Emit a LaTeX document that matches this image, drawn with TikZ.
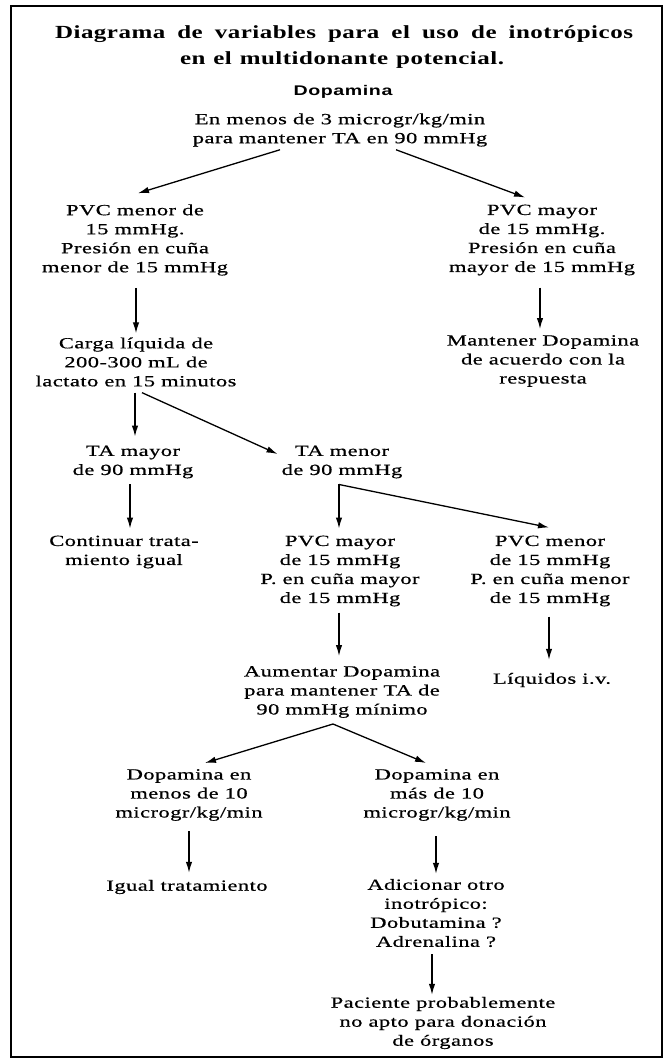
\documentclass[tikz,border=0pt]{standalone}
\usepackage{fontspec}
\usepackage{graphicx}
\usetikzlibrary{arrows.meta}
\setmainfont{Liberation Serif}[FakeStretch=1.45, LetterSpace=3, FakeBold=0.6]
\newfontfamily\titlefont{Liberation Serif}[LetterSpace=2]
\newfontfamily\dopfont{Liberation Sans}[LetterSpace=3]
\newcommand\ttlline[2]{\scalebox{1.35}[1]{\makebox[#1][s]{#2}}}
\begin{document}
\begin{tikzpicture}[x=1pt,y=-1pt,
  txt/.style={align=center, inner sep=0pt, font=\fontsize{15.5}{19}\selectfont},
  ttl/.style={inner sep=0pt, font=\titlefont\bfseries\fontsize{18.5}{20}\selectfont},
  arr/.style={-{Latex[length=11pt,width=6.5pt]}, line width=1.3pt},
  frame/.style={line width=1.8pt}]
\useasboundingbox (0,0) rectangle (664,1060);
\draw[frame] (11,6) rectangle (662,1057);

\node[ttl] (t1) at (344,34) {\ttlline{428.1pt}{Diagrama de variables para el uso de inotrópicos}};
\node[ttl] (t2) at (342,60) {\ttlline{240pt}{en el multidonante potencial.}};
\node[inner sep=0pt, font=\dopfont\bfseries\fontsize{14}{16}\selectfont] (dop) at (343,92) {\scalebox{1.4}[1]{Dopamina}};

\node[txt] (start) at (340,130) {En menos de 3 microgr/kg/min\\para mantener TA en 90 mmHg};
\node[txt] (pvcL) at (135,240) {PVC menor de\\15 mmHg.\\Presión en cuña\\menor de 15 mmHg};
\node[txt] (pvcR) at (542,240) {PVC mayor\\de 15 mmHg.\\Presión en cuña\\mayor de 15 mmHg};
\node[txt] (carga) at (136,362) {Carga líquida de\\200-300 mL de\\lactato en 15 minutos};
\node[txt] (mant) at (543,361) {Mantener Dopamina\\de acuerdo con la\\respuesta};
\node[txt] (tamay) at (133,462) {TA mayor\\de 90 mmHg};
\node[txt] (tamen) at (342,462) {TA menor\\de 90 mmHg};
\node[txt] (cont) at (124,552) {Continuar trata-\\miento igual};
\node[txt] (pvcmay) at (340,571) {PVC mayor\\de 15 mmHg\\P. en cuña mayor\\de 15 mmHg};
\node[txt] (pvcmen) at (550,571) {PVC menor\\de 15 mmHg\\P. en cuña menor\\de 15 mmHg};
\node[txt] (aum) at (342,692) {Aumentar Dopamina\\para mantener TA de\\90 mmHg mínimo};
\node[txt] (liq) at (552,680) {Líquidos i.v.};
\node[txt] (dmen) at (189,795) {Dopamina en\\menos de 10\\microgr/kg/min};
\node[txt] (dmas) at (437,795) {Dopamina en\\más de 10\\microgr/kg/min};
\node[txt] (igual) at (187,887) {Igual tratamiento};
\node[txt] (adic) at (436,913) {Adicionar otro\\inotrópico:\\Dobutamina ?\\Adrenalina ?};
\node[txt] (pac) at (443,1023) {Paciente probablemente\\no apto para donación\\de órganos};

\draw[arr] ([xshift=-60pt,yshift=-3pt]start.south) -- ([xshift=3pt,yshift=11pt]pvcL.north);
\draw[arr] ([xshift=56pt,yshift=-3pt]start.south) -- ([xshift=-17pt,yshift=7pt]pvcR.north);
\draw[arr] ([xshift=1pt,yshift=-12pt]pvcL.south) -- ([xshift=0pt,yshift=4pt]carga.north);
\draw[arr] ([xshift=-2pt,yshift=-12pt]pvcR.south) -- ([xshift=-3pt,yshift=6pt]mant.north);
\draw[arr] ([xshift=-1pt,yshift=-6pt]carga.south) -- ([xshift=2pt,yshift=9pt]tamay.north);
\draw[arr] ([xshift=6pt,yshift=-6pt]carga.south) -- ([xshift=-4pt,yshift=8pt]tamen.west);
\draw[arr] ([xshift=-3pt,yshift=-6pt]tamay.south) -- ([xshift=6pt,yshift=7pt]cont.north);
\coordinate (split1) at ([xshift=-3pt,yshift=-6pt]tamen.south);
\draw[arr] (split1) -- ([xshift=-1pt,yshift=7pt]pvcmay.north);
\draw[arr] (split1) -- ([xshift=-1pt,yshift=8pt]pvcmen.north);
\draw[arr] ([xshift=-1pt,yshift=-6pt]pvcmay.south) -- ([xshift=-3pt,yshift=10pt]aum.north);
\draw[arr] ([xshift=-1pt,yshift=-10pt]pvcmen.south) -- ([xshift=-3pt,yshift=13pt]liq.north);
\coordinate (split2) at ([xshift=-9pt,yshift=-6pt]aum.south);
\draw[arr] (split2) -- ([xshift=16pt,yshift=6pt]dmen.north);
\draw[arr] (split2) -- ([xshift=-11pt,yshift=6pt]dmas.north);
\draw[arr] ([xshift=0pt,yshift=-10pt]dmen.south) -- ([xshift=2pt,yshift=7pt]igual.north);
\draw[arr] ([xshift=-1pt,yshift=-15pt]dmas.south) -- ([xshift=0pt,yshift=5pt]adic.north);
\draw[arr] ([xshift=-4pt,yshift=-7pt]adic.south) -- ([xshift=-11pt,yshift=2pt]pac.north);
\end{tikzpicture}
\end{document}
